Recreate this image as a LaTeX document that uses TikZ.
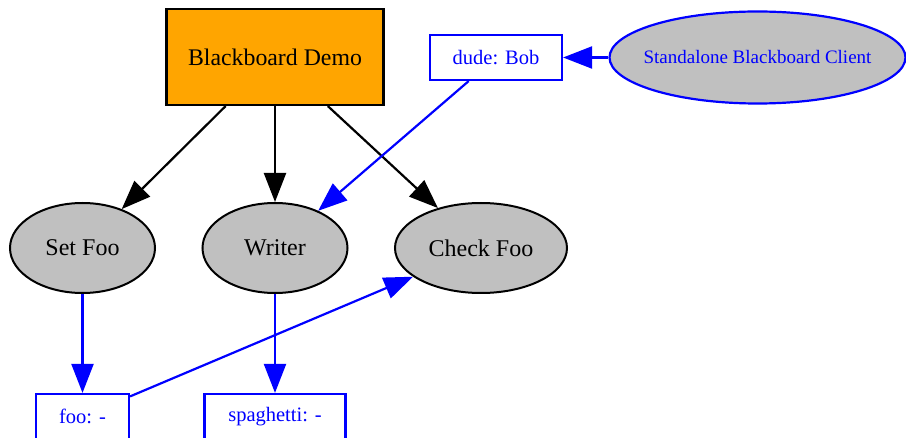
\documentclass[tikz,border=0pt]{standalone}
\usepackage{fontspec}
\setmainfont{Liberation Serif}
\usetikzlibrary{arrows.meta,shapes.geometric}
\definecolor{gvorange}{HTML}{FFA500}
\definecolor{gvgray}{HTML}{C0C0C0}
\begin{document}
\begin{tikzpicture}[x=1pt,y=-1pt,
  every node/.style={inner sep=0pt},
  behav/.style={ellipse,draw=black,line width=2pt,fill=gvgray,minimum height=90pt,font=\fontsize{24}{28}\selectfont},
  bbkey/.style={rectangle,draw=blue,line width=2.2pt,fill=white,text=blue,minimum height=45pt,font=\fontsize{20.5}{24}\selectfont},
  blk/.style={draw=black,line width=2.2pt,-{Triangle[length=29pt,width=22pt]}},
  blu/.style={draw=blue,line width=2.2pt,-{Triangle[length=29pt,width=22pt]},fill=blue}
]
\useasboundingbox (0,0) rectangle (906,438);
\node[rectangle,draw=black,line width=2.2pt,fill=gvorange,minimum width=217pt,minimum height=96pt,font=\fontsize{23.8}{28}\selectfont] (demo) at (275,57) {Blackboard Demo};
\node[bbkey,minimum width=132pt] (dude) at (496,57.5) {dude: Bob};
\node[ellipse,draw=blue,line width=2.2pt,fill=gvgray,text=blue,minimum width=296pt,minimum height=92pt,font=\fontsize{19}{22}\selectfont] (client) at (757.5,57.5) {\makebox[0pt]{Standalone Blackboard Client}};
\node[behav,minimum width=145pt] (setfoo) at (82.5,248) {Set Foo};
\node[behav,minimum width=145pt] (writer) at (275,248) {Writer};
\node[behav,minimum width=172pt] (checkfoo) at (481,248) {Check Foo};
\node[bbkey,minimum width=93pt] (foo) at (82.5,416.5) {foo: -};
\node[bbkey,minimum width=141pt] (spag) at (275,416.5) {spaghetti: -};
\draw[blk] (demo) -- (setfoo);
\draw[blk] (demo) -- (writer);
\draw[blk] (demo) -- (checkfoo);
\draw[blu] (dude) -- (writer);
\draw[blu] (client) -- (dude);
\draw[blu] (setfoo) -- (foo);
\draw[blu] (writer) -- (spag);
\draw[blu] (foo) -- (checkfoo);
\end{tikzpicture}
\end{document}
